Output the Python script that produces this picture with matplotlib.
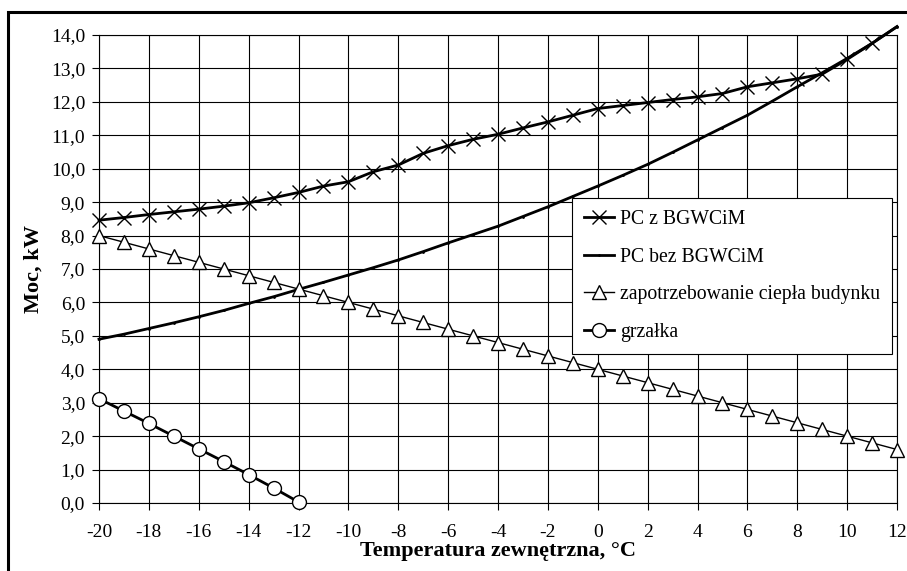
import matplotlib
matplotlib.use("Agg")
import matplotlib.pyplot as plt
from matplotlib.patches import Rectangle

plt.rcParams['font.family'] = ['Liberation Serif', 'DejaVu Serif']

temps = list(range(-20, 13))
pc_z = [8.46, 8.54, 8.63, 8.71, 8.79, 8.88, 8.98, 9.13, 9.29, 9.48, 9.61,
        9.91, 10.11, 10.46, 10.69, 10.88, 11.03, 11.22, 11.40, 11.60, 11.80,
        11.89, 11.98, 12.07, 12.15, 12.25, 12.45, 12.57, 12.69, 12.83, 13.27,
        13.75, 14.25]
pc_bez = [4.90, 5.05, 5.22, 5.39, 5.57, 5.76, 5.97, 6.17, 6.39, 6.60, 6.82,
          7.04, 7.27, 7.52, 7.78, 8.03, 8.28, 8.57, 8.86, 9.17, 9.48, 9.80,
          10.13, 10.49, 10.86, 11.23, 11.60, 12.02, 12.45, 12.87, 13.30,
          13.75, 14.25]
zapotrz = [8.0, 7.8, 7.6, 7.4, 7.2, 7.0, 6.8, 6.6, 6.4, 6.2, 6.0, 5.8, 5.6,
           5.4, 5.2, 5.0, 4.8, 4.6, 4.4, 4.2, 4.0, 3.8, 3.6, 3.4, 3.2, 3.0,
           2.8, 2.6, 2.4, 2.2, 2.0, 1.8, 1.6]
grz_t = [-20, -19, -18, -17, -16, -15, -14, -13, -12]
grzalka = [3.12, 2.75, 2.38, 2.00, 1.62, 1.24, 0.85, 0.45, 0.03]

xticks = list(range(-20, 13, 2))
yticks = list(range(0, 15))
labels = ["PC z BGWCiM", "PC bez BGWCiM",
          "zapotrzebowanie ciepła budynku", "grzałka"]

W, H = 907, 571
fig = plt.figure(figsize=(W / 100, H / 100), dpi=100)
ax = fig.add_axes([99 / W, 1 - 503 / H, (897 - 99) / W, (503 - 35) / H])

ax.set_xlim(-20, 12)
ax.set_ylim(0, 14)
ax.set_xticks(xticks)
ax.set_xticklabels([str(t) for t in xticks])
ax.set_yticks(yticks)
ax.set_yticklabels([f"{v:.1f}".replace('.', ',') for v in yticks])
ax.grid(True, color='black', linewidth=0.8)
ax.set_axisbelow(True)
for s in ax.spines.values():
    s.set_linewidth(0.8)
    s.set_color('black')
ax.tick_params(direction='out', length=5, width=0.8, labelsize=14,
               colors='black')
ax.tick_params(axis='x', pad=10)
ax.tick_params(axis='y', pad=5)

ax.plot(temps, pc_z, color='black', lw=2, marker='x', ms=10, mew=1.0,
        markevery=slice(0, 32), clip_on=False, label=labels[0], zorder=4)
ax.plot(temps, pc_bez, color='black', lw=2, marker='.', ms=2,
        clip_on=False, label=labels[1], zorder=3)
ax.plot(temps, zapotrz, color='black', lw=1, marker='^', ms=10,
        mfc='white', mec='black', mew=1.0, label=labels[2], zorder=5,
        clip_on=False)
ax.plot(grz_t, grzalka, color='black', lw=2, marker='o', ms=10,
        mfc='white', mec='black', mew=1.0, label=labels[3], zorder=5,
        clip_on=False)

ax.set_xlabel("Temperatura zewnętrzna, °C", fontsize=16, fontweight='bold',
              labelpad=0)
ax.set_ylabel("Moc, kW", fontsize=16, fontweight='bold', labelpad=5)

leg = ax.legend(loc='upper right', bbox_to_anchor=(892 / W, 1 - 198 / H),
                bbox_transform=fig.transFigure, fontsize=14.2, frameon=True,
                fancybox=False, edgecolor='black', framealpha=1,
                labelspacing=0.95, handlelength=1.55, handletextpad=0.3,
                borderpad=0.6, borderaxespad=0)
leg.get_frame().set_linewidth(0.8)
leg.set_zorder(10)

fig.patches.append(Rectangle((8 / W, -0.1), 1.2, 1 - 12 / H + 0.1,
                             transform=fig.transFigure, fill=False,
                             edgecolor='black', linewidth=2.2))

fig.savefig("out.png", dpi=100)
